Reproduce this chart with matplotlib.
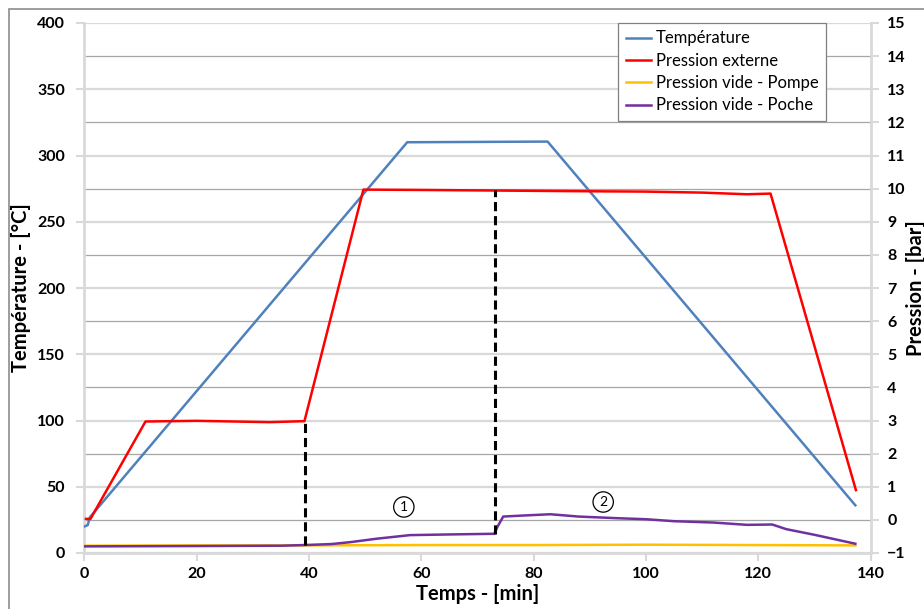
import matplotlib
matplotlib.use("Agg")
import matplotlib.pyplot as plt
from matplotlib.patches import Rectangle

plt.rcParams['font.family'] = ['Lato', 'DejaVu Sans']

# --- données ---
t_temp = [0, 0.6, 1.0, 57.5, 82.5, 137.3]
temperature = [20, 21, 27, 310, 310.5, 36]

t_ext = [0.3, 1.1, 10.9, 20, 33, 39.2, 49.7, 60, 75, 90, 100, 110, 118, 122.2, 137.4]
p_ext = [0.03, 0.03, 2.97, 2.99, 2.95, 2.98, 9.97, 9.96, 9.94, 9.92, 9.91, 9.88, 9.83, 9.85, 0.9]

t_pompe = [0, 20, 40, 60, 80, 100, 120, 137.3]
p_pompe = [-0.78, -0.77, -0.77, -0.76, -0.76, -0.75, -0.76, -0.77]

t_poche = [0, 20, 35, 39.2, 44, 47.5, 52, 58, 65, 73, 73.6, 74.6, 78, 83, 88, 95,
           100, 105, 112, 118, 122.5, 125, 130, 137.3]
p_poche = [-0.8, -0.79, -0.78, -0.76, -0.73, -0.67, -0.57, -0.46, -0.44, -0.42, -0.2, 0.1,
           0.13, 0.17, 0.1, 0.05, 0.02, -0.04, -0.08, -0.15, -0.14, -0.28, -0.45, -0.72]

# lignes verticales pointillées (x, bas, haut) en bar
dash_x = [39.3, 73.2]
dash_bas = [-0.77, -0.42]
dash_haut = [2.98, 9.95]

# repères numérotés
marq_txt = ['1', '2']
marq_x = [56.9, 92.4]
marq_y = [0.39, 0.54]

fig = plt.figure(figsize=(9.24, 6.09), dpi=100)
ax1 = fig.add_axes([84.3 / 924, 56 / 609, (870.5 - 84.3) / 924, (553 - 23) / 609])
ax2 = ax1.twinx()

light = '#d9d9d9'
dark = '#a6a6a6'

# grille : principale (claire) tous les 50 °C, secondaire (foncée) tous les 25
ax1.set_ylim(0, 400)
ax1.set_xlim(0, 140)
ax1.set_yticks(range(0, 401, 50))
ax1.set_yticks(range(25, 400, 50), minor=True)
ax1.grid(True, axis='y', which='major', color=light, lw=1.6, zorder=0)
ax1.grid(True, axis='y', which='minor', color=dark, lw=0.9, zorder=0)
ax1.tick_params(axis='y', which='minor', length=0)
ax1.set_xticks(range(0, 141, 20))

ax1.plot(t_temp, temperature, color='#4F81BD', lw=1.8, label='Température', zorder=3)
l2, = ax2.plot(t_ext, p_ext, color='#FF0000', lw=1.8, label='Pression externe', zorder=3)
l3, = ax2.plot(t_pompe, p_pompe, color='#FFC000', lw=1.8, label='Pression vide - Pompe', zorder=3)
l4, = ax2.plot(t_poche, p_poche, color='#7030A0', lw=1.8, label='Pression vide - Poche', zorder=3)

ax2.set_ylim(-1, 15)
ax2.set_yticks(range(-1, 16))
ax2.vlines(dash_x, dash_bas, dash_haut, colors='black', lw=2.2, linestyles=(0, (3, 1.6)), zorder=4)

for txt, x, y in zip(marq_txt, marq_x, marq_y):
    ax2.text(x, y, txt, ha='center', va='center', fontsize=10,
             bbox=dict(boxstyle='circle,pad=0.3', fc='white', ec='black', lw=0.9))

for ax in (ax1, ax2):
    for s in ax.spines.values():
        s.set_visible(False)
    ax.tick_params(colors=light, labelcolor='black', labelsize=11.5, length=6, width=1.5)
    for lab in ax.get_xticklabels() + ax.get_yticklabels():
        lab.set_fontweight('bold')
for side in ('left', 'bottom'):
    ax1.spines[side].set_visible(True)
    ax1.spines[side].set_color(light)
    ax1.spines[side].set_linewidth(2)
ax2.spines['right'].set_visible(True)
ax2.spines['right'].set_color(light)
ax2.spines['right'].set_linewidth(2)
ax1.tick_params(axis='x', pad=4)
ax1.tick_params(axis='y', pad=8)
ax2.tick_params(axis='y', pad=6)

ax1.set_xlabel('Temps - [min]', fontsize=14.5, fontweight='bold', labelpad=2)
ax1.set_ylabel('Température - [°C]', fontsize=14.5, fontweight='bold', labelpad=4)
ax2.set_ylabel('Pression - [bar]', fontsize=14.5, fontweight='bold', rotation=90, labelpad=0)

h1, lab1 = ax1.get_legend_handles_labels()
leg = ax2.legend(h1 + [l2, l3, l4], lab1 + [l2.get_label(), l3.get_label(), l4.get_label()],
                 loc='upper left', bbox_to_anchor=(0.679, 1.0), borderaxespad=0,
                 fontsize=12, fancybox=False, framealpha=1, edgecolor='#808080',
                 handlelength=1.5, handletextpad=0.3, labelspacing=0.38, borderpad=0.45)
leg.get_frame().set_linewidth(0.9)

fig.patches.append(Rectangle((9 / 924, -0.1), 1.1, (600 / 609) + 0.1, transform=fig.transFigure,
                             fill=False, ec='#8c8c8c', lw=1.2))

fig.savefig('out.png', dpi=100)
